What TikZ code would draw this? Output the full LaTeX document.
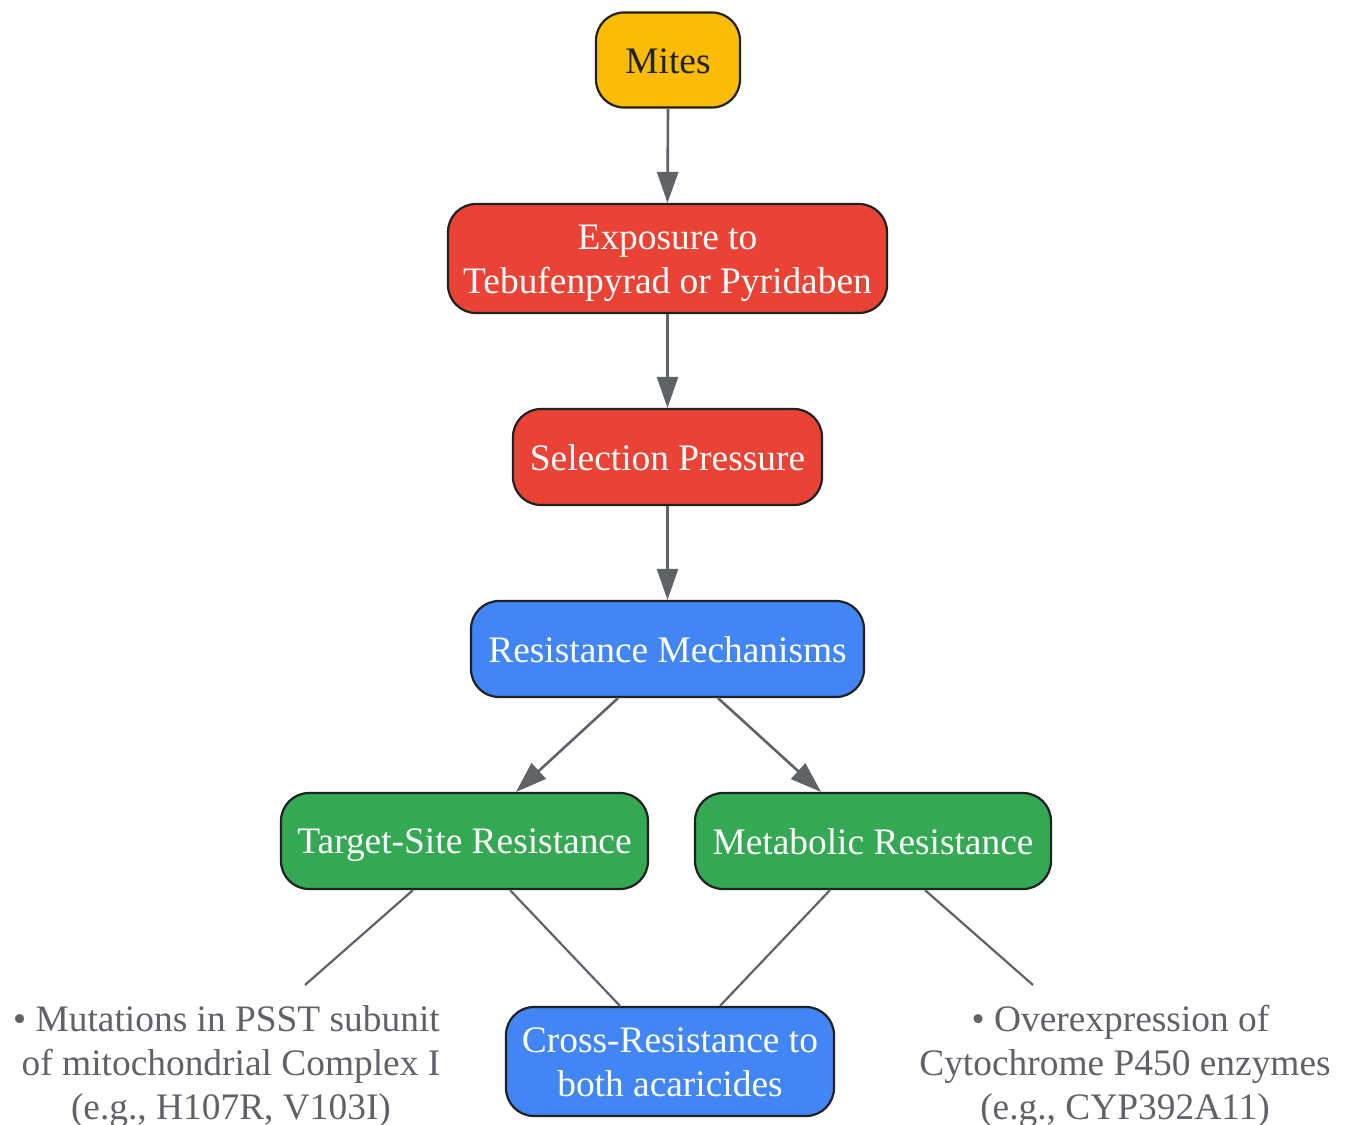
\documentclass[tikz,border=0pt]{standalone}
\usepackage{fontspec}
\setmainfont{Liberation Serif}
\usetikzlibrary{arrows.meta,calc}
\definecolor{cyellow}{HTML}{FBBC05}
\definecolor{cred}{HTML}{EA4335}
\definecolor{cblue}{HTML}{4285F4}
\definecolor{cgreen}{HTML}{34A853}
\definecolor{cline}{HTML}{5F6368}
\definecolor{cborder}{HTML}{202124}
\newcommand{\st}{\rule[-8pt]{0pt}{42pt}}
\begin{document}
\begin{tikzpicture}[x=1pt,y=-1pt,
  box/.style={draw=cborder,line width=2.2pt,rounded corners=28pt,align=center,
     text=white,font=\fontsize{37.4}{44}\selectfont,inner sep=0pt},
  lbl/.style={align=center,text=cline,font=\fontsize{37.4}{44}\selectfont,inner sep=0pt},
  arr/.style={draw=cline,line width=2.6pt,-{Triangle[length=31pt,width=21pt]}},
  ln/.style={draw=cline,line width=2.2pt}]
\fill[white] (0,0) rectangle (1345,1125);
\useasboundingbox (0,0) rectangle (1345,1125);
\node[box,fill=cyellow,text=cborder,minimum width=144pt,minimum height=95pt] (mites) at (668,60) {\st Mites};
\node[box,fill=cred,minimum width=439pt,minimum height=109pt] (exp) at (667.5,258.5) {\st Exposure to\\\st Tebufenpyrad or Pyridaben};
\node[box,fill=cred,minimum width=309pt,minimum height=96pt] (sel) at (667.5,457) {\st Selection Pressure};
\node[box,fill=cblue,minimum width=393pt,minimum height=96pt] (rm) at (667.5,649) {\st Resistance Mechanisms};
\node[box,fill=cgreen,minimum width=367pt,minimum height=96pt] (ts) at (464.5,841) {\st Target-Site Resistance};
\node[box,fill=cgreen,minimum width=356pt,minimum height=96pt] (met) at (873,841) {\st Metabolic Resistance};
\node[box,fill=cblue,minimum width=328pt,minimum height=109pt] (cr) at (670,1061.5) {\st Cross-Resistance to\\\st both acaricides};
\node[lbl] (lt) at (231,1063) {\st • Mutations in PSST subunit\kern9pt\\\st of mitochondrial Complex I\\\st (e.g., H107R, V103I)};
\node[lbl] (rt) at (1125,1063) {\st • Overexpression of\kern9pt\\\st Cytochrome P450 enzymes\\\st (e.g., CYP392A11)};
\coordinate (ltend) at (305,985);
\coordinate (rtend) at (1033,985);
\draw[arr] (mites.south) -- (exp.north);
\draw[arr] (exp.south) -- (sel.north);
\draw[arr] (sel.south) -- (rm.north);
\draw[arr] ($(rm.south)+(-49.5,0)$) -- ($(ts.north)+(51.5,0)$);
\draw[arr] ($(rm.south)+(50.5,0)$) -- ($(met.north)+(-52,0)$);
\draw[ln] ($(ts.south)+(-51.5,0)$) -- (ltend);
\draw[ln] ($(ts.south)+(45.5,0)$) -- ($(cr.north)+(-50,0)$);
\draw[ln] ($(met.south)+(-43,0)$) -- ($(cr.north)+(50,0)$);
\draw[ln] ($(met.south)+(52,0)$) -- (rtend);
\end{tikzpicture}
\end{document}
